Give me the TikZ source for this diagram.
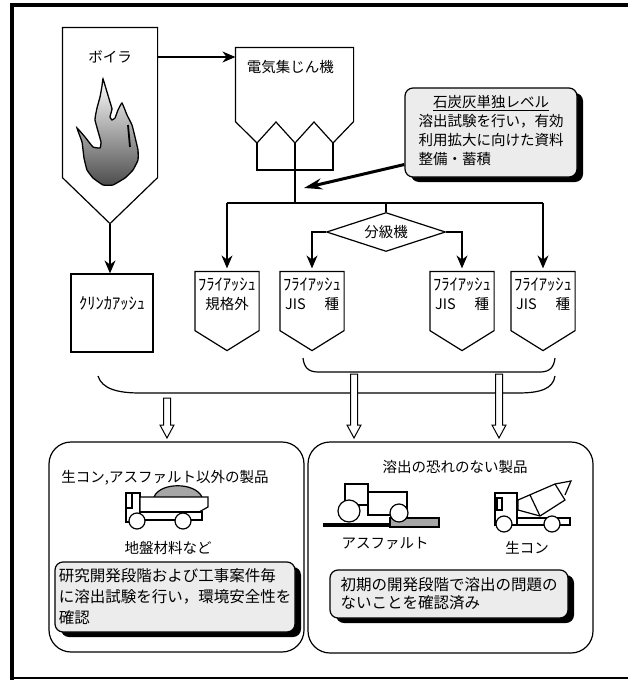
\documentclass[tikz,border=0pt]{standalone}
\usepackage{fontspec}
\setmainfont{Noto Sans CJK JP}
\usetikzlibrary{arrows.meta, positioning, shapes.geometric, calc, shadows}
\newcommand{\hw}[1]{{\fontsize{16.5}{18}\selectfont #1}}

\begin{document}
\begin{tikzpicture}[x=1pt, y=-1pt, line width=1.2pt,
  font=\fontsize{14.5}{19}\selectfont]
  \tikzset{
    flow/.style={line width=1.2pt, -{Stealth[length=13pt, width=11pt]}},
    body/.style={inner sep=0pt},
    fabox/.style={inner sep=0pt, minimum width=63pt, minimum height=44pt, align=center},
    note/.style={draw, fill=gray!15, rounded corners=8pt, align=left,
      drop shadow={shadow xshift=6pt, shadow yshift=-5pt, opacity=1, fill=black}},
    product/.style={draw, rounded corners=22pt, inner sep=0pt},
    hollow/.style={draw, fill=white, line width=1pt}
  }
  \useasboundingbox (0,0) rectangle (627,680);

  % frame
  \draw[line width=4pt] (11.5,682) -- (11.5,4.5) -- (632,4.5);
  \draw[line width=2pt] (10,678) -- (632,678);

  % boiler
  \node[body, minimum width=94pt, minimum height=149pt] (boiler) at (110,102.5) {};
  \draw (boiler.north west) -- (boiler.south west) -- ($(boiler.south)+(0,46)$) coordinate (boilertip)
    -- (boiler.south east) -- (boiler.north east) -- cycle;
  \node (boilername) at (110,57) {ボイラ};
  \draw[line width=1.3pt, top color=white, bottom color=black!70]
    plot[smooth cycle, tension=0.2] coordinates {(103,79) (107,92) (110,102) (112,109) (110,117)
      (112,120) (115,118) (118,110) (122,103) (127,115) (132,125) (135,137) (138,150) (138,160)
      (133,170) (125,178) (113,185) (103,185) (93,178) (87,170) (84,158) (82,142) (77,128)
      (85,137) (93,147) (100,148) (101,142) (95,120) (97,108) (100,97) (102,86)};
  \draw[line width=1.8pt] (128,125) -- (130,147);

  % electrostatic precipitator
  \node[body, minimum width=117pt, minimum height=73pt] (esp) at (294.5,84.5) {};
  \node[anchor=west] (espname) at (243,67) {電気集じん機};
  \coordinate (h1) at (257,143);
  \coordinate (h2) at (295,143);
  \coordinate (h3) at (333,143);
  \draw (esp.south west) -- (esp.north west) -- (esp.north east) -- (esp.south east)
    -- (h3) -- (314,122) -- (h2) -- (276,122) -- (h1) -- cycle;
  \draw (h1) -- ++(0,27) -| (h3);
  \draw[flow] (boiler.east |- boilername) -- (esp.west |- boilername);

  % clinker ash
  \node[draw, minimum width=82pt, minimum height=78pt] (clinker) at (112,313) {};
  \node (clinkername) at (112,303) {\hw{ｸﾘﾝｶｱｯｼｭ}};
  \draw[flow] (boilertip) -- (boilertip |- clinker.north);

  % fly ash split
  \coordinate (split) at (295,203);
  \coordinate (splitL) at (227,203);
  \coordinate (splitR) at (543,203);
  \draw (h2) -- (split);
  \draw (splitL) -- (splitR);
  \node[diamond, draw, aspect=3, minimum width=119pt, minimum height=39pt, inner sep=0pt] (classifier) at (386,232) {分級機};
  \draw (classifier.north) -- (classifier.north |- split);

  \node[fabox] (fa0) at (227,294) {\hw{ﾌﾗｲｱｯｼｭ}\\規格外};
  \node[fabox] (fa1) at (312,294) {\hw{ﾌﾗｲｱｯｼｭ}\\JIS\hspace{1.3em}種};
  \node[fabox] (fa2) at (462,294) {\hw{ﾌﾗｲｱｯｼｭ}\\JIS\hspace{1.3em}種};
  \node[fabox] (fa3) at (543,294) {\hw{ﾌﾗｲｱｯｼｭ}\\JIS\hspace{1.3em}種};
  \foreach \n in {fa0,fa1,fa2,fa3}
    \draw (\n.north west) -- ($(\n.south west)+(0,14)$) -- ($(\n.south)+(0,34)$)
      -- ($(\n.south east)+(0,14)$) -- (\n.north east) -- cycle;

  \draw[flow, shorten >=3pt] (splitL) -- (fa0.north);
  \draw[flow, shorten >=3pt] (splitR) -- (fa3.north);
  \draw[flow, shorten >=3pt] (classifier.west) -| (fa1.north);
  \draw[flow, shorten >=3pt] (classifier.east) -| (fa2.north);

  % coal ash note
  \node[note, minimum width=172pt, minimum height=89pt, inner sep=0pt] (level) at (491,132.5)
    {\begin{tabular}{@{}l@{}}\multicolumn{1}{@{}c@{}}{\underline{石炭灰単独レベル}}\\
      溶出試験を行い，有効\\利用拡大に向けた資料\\整備・蓄積\end{tabular}};
  \coordinate (leveltip) at (304,188);
  \draw[line width=3pt, -{Stealth[length=18pt, width=11pt]}] ([yshift=-32pt]level.west) -- (leveltip);

  % braces
  \coordinate (lowL) at (98,376);
  \coordinate (lowR) at (555,376);
  \coordinate (upL) at (303,358);
  \coordinate (upR) at (555,358);
  \draw (lowL) .. controls (102,389) and (118,393) .. (140,393) -- (518,393)
    .. controls (540,393) and (553,389) .. (lowR);
  \draw (upL) .. controls (304,367) and (308,372) .. (318,372) -- (540,372)
    .. controls (550,372) and (554,367) .. (upR);

  % products
  \node[product, minimum width=255pt, minimum height=210pt] (prodA) at (176.5,547) {};
  \node[product, minimum width=285pt, minimum height=211pt] (prodB) at (450.5,547.5) {};

  % hollow arrows down to the products
  \foreach \x/\t in {167/398, 354/374, 499/374}
    \draw[hollow] (\x-3.5,\t) -- (\x+3.5,\t) -- (\x+3.5,425) -- (\x+7,425) -- (\x,438)
      -- (\x-7,425) -- (\x-3.5,425) -- cycle;

  \node (prodAtitle) at (165,478) {生コン,アスファルト以外の製品};
  \node (prodBtitle) at (455,467) {溶出の恐れのない製品};
  \node (groundtext) at (168,548) {地盤材料など};
  \node (asphalttext) at (385,543) {アスファルト};
  \node (concretetext) at (527,548) {生コン};

  % dump truck
  \draw (126,493) rectangle (140,522);
  \draw (126,493) rectangle (132,508);
  \fill[gray!70] (154,497) .. controls (160,482) and (195,482) .. (202,497) -- cycle;
  \draw (154,497) .. controls (160,482) and (195,482) .. (202,497);
  \draw[fill=white] (140,497) -- (208,497) -- (208,507) -- (199,512) -- (140,512) -- cycle;
  \draw (140,512) rectangle (202,520);
  \draw[fill=white] (137,521) circle (8pt);
  \draw[fill=white] (183,521) circle (8pt);

  % road roller
  \draw (345,484) rectangle (368,505);
  \draw (368,492) rectangle (407,515);
  \fill (323,523) rectangle (390,527);
  \draw[fill=gray!70] (390,518) rectangle (439,527);
  \draw[fill=white] (349,511) circle (11pt);
  \draw[fill=white] (399,513) circle (9pt);

  % mixer truck
  \draw (495,493) rectangle (517,525);
  \draw (497,498) rectangle (502,510);
  \draw (517,518) rectangle (570,525);
  \draw[fill=white] (518,500) -- (555,484) -- (565,500) -- (540,516) -- (518,510) -- cycle;
  \draw (530,495) -- (540,516);
  \draw (555,484) -- (571,481) -- (565,495);
  \draw[fill=white] (504,524) circle (8pt);
  \draw[fill=white] (552,524) circle (8pt);

  % result notes
  \node[note, minimum width=240pt, minimum height=70pt, font=\fontsize{15.5}{21}\selectfont] (noteA) at (175,597)
    {研究開発段階および工事案件毎\\に溶出試験を行い，環境安全性を\\確認};
  \node[note, minimum width=238pt, minimum height=48pt, font=\fontsize{15.5}{18}\selectfont] (noteB) at (449,594)
    {初期の開発段階で溶出の問題の\\ないことを確認済み};
\end{tikzpicture}
\end{document}
